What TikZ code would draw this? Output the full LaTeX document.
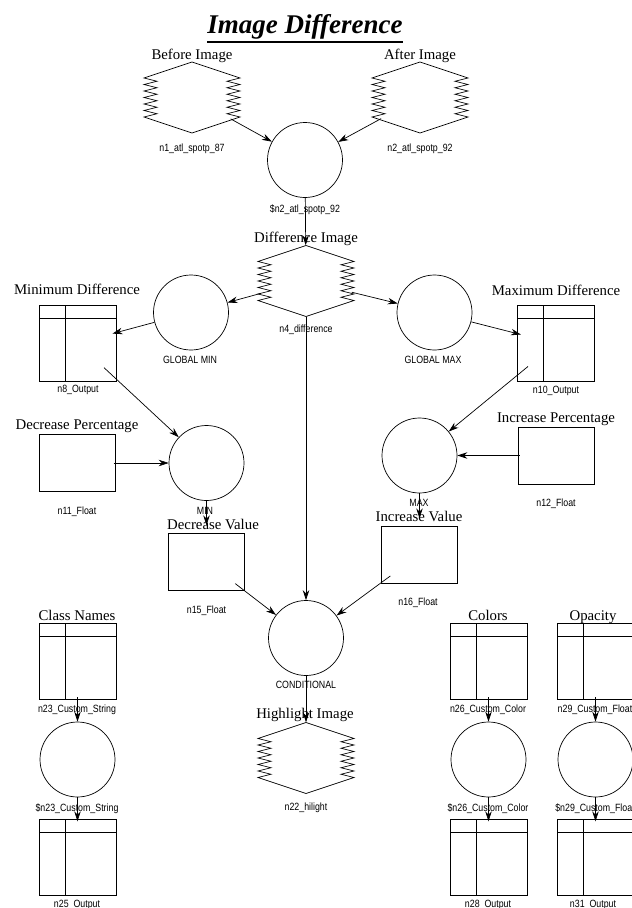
\documentclass[tikz,border=0pt]{standalone}
\usepackage{fontspec}
\setmainfont{Liberation Serif}
\newfontfamily\smallsans{Liberation Sans}[FakeStretch=0.84]
\usetikzlibrary{arrows.meta,shapes.geometric}

\tikzset{
  x=1pt, y=-1pt,
  outline/.style={draw=black, line width=0.7pt},
  wire/.style={draw=black, line width=0.7pt, -{Stealth[length=10pt,width=6.5pt]}},
  func/.style={circle, outline, minimum size=75pt, inner sep=0pt},
  hubcirc/.style={circle, minimum size=72pt, inner sep=0pt},
  hubell/.style={ellipse, minimum width=96pt, minimum height=71pt, inner sep=0pt},
  heading/.style={font=\fontsize{14.8}{16}\selectfont, anchor=base, inner sep=0pt},
  caption/.style={font=\smallsans\fontsize{10.5}{12}\selectfont, anchor=base, inner sep=0pt},
}

% image node: hexagon with zigzag sides
\newcommand\imgnode[3]{%
  \node[hubell] (#1) at (#2,#3) {};
  \begin{scope}[shift={(#2,#3)}]
    \draw[outline] (-48,-19.5) -- (0,-35.5) -- (48,-19.5)
      -- (35,-16.25) -- (48,-13) -- (35,-9.75) -- (48,-6.5) -- (35,-3.25) -- (48,0)
      -- (35,3.25) -- (48,6.5) -- (35,9.75) -- (48,13) -- (35,16.25) -- (48,19.5)
      -- (0,35.5) -- (-48,19.5)
      -- (-35,16.25) -- (-48,13) -- (-35,9.75) -- (-48,6.5) -- (-35,3.25) -- (-48,0)
      -- (-35,-3.25) -- (-48,-6.5) -- (-35,-9.75) -- (-48,-13) -- (-35,-16.25) -- cycle;
  \end{scope}}
% table node: box with header row and key column
\newcommand\tblnode[3]{%
  \node[hubcirc] (#1) at (#2,#3) {};
  \begin{scope}[shift={(#2,#3)}]
    \draw[outline] (-38.5,-38) rectangle (38.5,38);
    \draw[outline] (-38.5,-25) -- (38.5,-25);
    \draw[outline] (-12.5,-38) -- (-12.5,38);
  \end{scope}}
% scalar value node: plain box
\newcommand\valnode[3]{%
  \node[hubcirc] (#1) at (#2,#3) {};
  \begin{scope}[shift={(#2,#3)}]
    \draw[outline] (-38,-28.5) rectangle (38,28.5);
  \end{scope}}

\begin{document}
\begin{tikzpicture}
\useasboundingbox (0,0) rectangle (632,908);
\fill[white] (0,0) rectangle (632,908);

% title
\node[font=\bfseries\itshape\fontsize{27}{30}\selectfont, anchor=base, inner sep=0pt] (title) at (305,33) {Image Difference};
\draw[line width=1.1pt] ([yshift=-9pt]title.base west) -- ([yshift=-9pt]title.base east);

% nodes
\imgnode{n1}{192}{97.5}
\imgnode{n2}{420}{97.5}
\node[func] (s2) at (305,160) {};
\imgnode{n4}{306}{281}
\node[func] (gmin) at (191,312.5) {};
\node[func] (gmax) at (434.5,312.5) {};
\tblnode{n8}{77.5}{343}
\tblnode{n10}{556}{343.5}
\valnode{n11}{77.5}{463}
\node[func] (fmin) at (206.5,463) {};
\node[func] (fmax) at (419.5,455.5) {};
\valnode{n12}{556}{455.5}
\valnode{n15}{206.5}{561.5}
\valnode{n16}{419.5}{554.5}
\node[func] (cond) at (306,638) {};
\imgnode{n22}{306}{758}
\tblnode{n23}{77.5}{661}
\node[func] (s23) at (77.5,759.5) {};
\tblnode{n25}{77.5}{857.5}
\tblnode{n26}{488.5}{661}
\node[func] (s26) at (488.5,759.5) {};
\tblnode{n28}{488.5}{857.5}
\tblnode{n29}{595.5}{661}
\node[func] (s29) at (595.5,759.5) {};
\tblnode{n31}{595.5}{857.5}

% connectors
\draw[wire] (n1) -- (s2);
\draw[wire] (n2) -- (s2);
\draw[wire] (s2) -- (n4);
\draw[wire] (n4) -- (gmin);
\draw[wire] (n4) -- (gmax);
\draw[wire] (gmin) -- (n8);
\draw[wire] (gmax) -- (n10);
\draw[wire] (n8) -- (fmin);
\draw[wire] (n11) -- (fmin);
\draw[wire] (n10) -- (fmax);
\draw[wire] (n12) -- (fmax);
\draw[wire] (fmin) -- (n15);
\draw[wire] (fmax) -- (n16);
\draw[wire] (n4) -- (cond);
\draw[wire] (n15) -- (cond);
\draw[wire] (n16) -- (cond);
\draw[wire] (cond) -- (n22);
\draw[wire] (n23) -- (s23);
\draw[wire] (s23) -- (n25);
\draw[wire] (n26) -- (s26);
\draw[wire] (s26) -- (n28);
\draw[wire] (n29) -- (s29);
\draw[wire] (s29) -- (n31);

% headings
\foreach \txt/\x/\y [count=\i] in {
  Before Image/192/59, After Image/420/59, Difference Image/306/242,
  Minimum Difference/77/294, Maximum Difference/556/295,
  Decrease Percentage/77/429, Increase Percentage/556/422,
  Decrease Value/213/529, Increase Value/419/521,
  Class Names/77/620, Colors/488/620, Opacity/593/620,
  Highlight Image/305/718}
  \node[heading] (h\i) at (\x,\y) {\txt};

% node captions
\foreach \txt/\x/\y [count=\i] in {
  n1\_atl\_spotp\_87/192/151, n2\_atl\_spotp\_92/420/151,
  \$n2\_atl\_spotp\_92/305/212, n4\_difference/306/332,
  GLOBAL MIN/190/363, GLOBAL MAX/433/363,
  n8\_Output/78/392, n10\_Output/556/393,
  n11\_Float/77/514, MIN/205/514, MAX/419/506, n12\_Float/556/506,
  n15\_Float/206.5/613, n16\_Float/418/605,
  CONDITIONAL/306/688, n22\_hilight/306/810,
  n23\_Custom\_String/77/712, \$n23\_Custom\_String/77/811, n25\_Output/77/907,
  n26\_Custom\_Color/488/712, \$n26\_Custom\_Color/488/811, n28\_Output/488/907,
  n29\_Custom\_Float/595/712, \$n29\_Custom\_Float/595/811, n31\_Output/593/907}
  \node[caption] (c\i) at (\x,\y) {\txt};
\end{tikzpicture}
\end{document}
